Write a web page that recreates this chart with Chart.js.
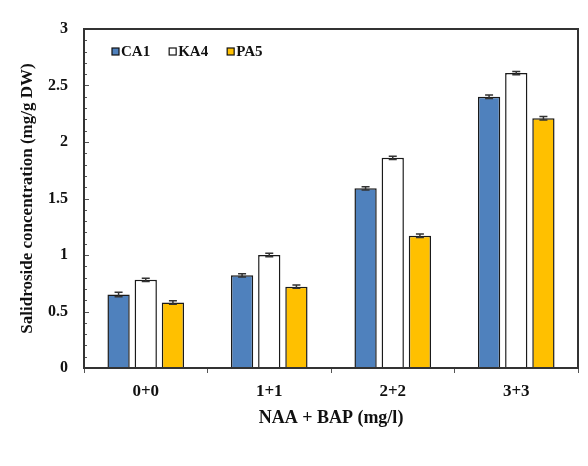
<!DOCTYPE html>
<html>
<head>
<meta charset="utf-8">
<script src="https://cdn.jsdelivr.net/npm/chart.js@4/dist/chart.umd.min.js"></script>
<style>
  html, body { margin: 0; padding: 0; background: #fff; }
  canvas { display: block; }
</style>
</head>
<body>
<canvas id="c" width="588" height="466"></canvas>
<script>
// Salidroside content per hormone treatment (mg/g DW)
const categories = ['0+0', '1+1', '2+2', '3+3'];
const seriesNames = ['CA1', 'KA4', 'PA5'];
const ca1 = [0.65, 0.82, 1.59, 2.40];
const ka4 = [0.78, 1.00, 1.86, 2.61];
const pa5 = [0.58, 0.72, 1.17, 2.21];
const ca1Err = [0.02, 0.015, 0.015, 0.015];
const ka4Err = [0.015, 0.015, 0.015, 0.015];
const pa5Err = [0.015, 0.015, 0.015, 0.015];
const yTicks = [0, 0.5, 1, 1.5, 2, 2.5, 3];

const seriesColors = ['#4f81bd', '#ffffff', '#ffc000'];
const serif = "'Liberation Serif', 'Times New Roman', serif";

// Frame around the plot, inward minor ticks on the y axis
const framePlugin = {
  id: 'frame',
  afterDatasetsDraw(chart) {
    const { ctx, chartArea: a, scales: { y } } = chart;
    ctx.save();
    ctx.strokeStyle = '#555';
    ctx.lineWidth = 1;
    for (let i = 0; i <= 30; i++) {
      const py = Math.round(y.getPixelForValue(i / 10)) + 0.5;
      const len = i % 5 === 0 ? 5 : 3;
      ctx.beginPath();
      ctx.moveTo(a.left, py);
      ctx.lineTo(a.left + len, py);
      ctx.stroke();
    }
    ctx.strokeStyle = '#333';
    ctx.lineWidth = 2;
    ctx.strokeRect(a.left, a.top, a.right - a.left, a.bottom - a.top);
    ctx.restore();
  }
};

// Error bar caps on top of each bar
const errorPlugin = {
  id: 'errorBars',
  afterDatasetsDraw(chart) {
    const { ctx, scales: { y } } = chart;
    ctx.save();
    ctx.strokeStyle = '#333';
    ctx.lineWidth = 1.5;
    chart.data.datasets.forEach((ds, di) => {
      const meta = chart.getDatasetMeta(di);
      meta.data.forEach((bar, i) => {
        const v = ds.data[i];
        const e = ds.errors[i];
        const yHi = y.getPixelForValue(v + e);
        const yLo = y.getPixelForValue(v - e);
        const x = bar.x;
        ctx.beginPath();
        ctx.moveTo(x, yHi); ctx.lineTo(x, yLo);
        ctx.moveTo(x - 4, yHi); ctx.lineTo(x + 4, yHi);
        ctx.moveTo(x - 4, yLo); ctx.lineTo(x + 4, yLo);
        ctx.stroke();
      });
    });
    ctx.restore();
  }
};

// Legend inside the plot area, top-left
const legendPlugin = {
  id: 'innerLegend',
  afterDraw(chart) {
    const { ctx, chartArea: a } = chart;
    ctx.save();
    ctx.font = 'bold 15px ' + serif;
    ctx.textBaseline = 'middle';
    ctx.textAlign = 'left';
    let x = a.left + 28;
    const yc = a.top + 23;
    chart.data.datasets.forEach(ds => {
      ctx.fillStyle = ds.backgroundColor;
      ctx.fillRect(x, yc - 4, 7, 7);
      ctx.strokeStyle = '#111';
      ctx.lineWidth = 1.2;
      ctx.strokeRect(x, yc - 4, 7, 7);
      ctx.fillStyle = '#111';
      ctx.fillText(ds.label, x + 9, yc);
      x += 9 + ctx.measureText(ds.label).width + 19;
    });
    ctx.restore();
  }
};

const seriesValues = [ca1, ka4, pa5];
const seriesErrors = [ca1Err, ka4Err, pa5Err];

new Chart(document.getElementById('c'), {
  type: 'bar',
  data: {
    labels: categories,
    datasets: seriesNames.map((name, k) => ({
      label: name,
      data: seriesValues[k],
      errors: seriesErrors[k],
      backgroundColor: seriesColors[k],
      borderColor: '#1a1a1a',
      borderWidth: 1.5,
      categoryPercentage: 0.66,
      barPercentage: 0.82
    }))
  },
  options: {
    responsive: false,
    devicePixelRatio: 1,
    animation: false,
    layout: { padding: { top: 29, right: 10, left: 0, bottom: 0 } },
    plugins: { legend: { display: false }, tooltip: { enabled: false } },
    scales: {
      x: {
        grid: { display: true, drawOnChartArea: false, tickLength: 5, color: '#555', offset: true },
        border: { display: false },
        ticks: { color: '#111', font: { family: serif, size: 17, weight: 'bold' }, padding: 8 },
        title: {
          display: true, text: 'NAA + BAP (mg/l)', color: '#111',
          font: { family: serif, size: 18, weight: 'bold' },
          padding: { top: 0, bottom: 37 }
        },
        afterFit(s) { s.height = 98; }
      },
      y: {
        min: 0, max: 3,
        afterBuildTicks(s) { s.ticks = yTicks.map(v => ({ value: v })); },
        grid: { display: false, drawTicks: false },
        border: { display: false },
        ticks: {
          color: '#111', padding: 16,
          font: { family: serif, size: 16, weight: 'bold' },
          callback: v => String(v)
        },
        title: {
          display: true, text: 'Salidroside concentration (mg/g DW)', color: '#111',
          font: { family: serif, size: 17, weight: 'bold' },
          padding: { top: 17, bottom: 0 }
        },
        afterFit(s) { s.width = 84; }
      }
    }
  },
  plugins: [framePlugin, errorPlugin, legendPlugin]
});
</script>
</body>
</html>
